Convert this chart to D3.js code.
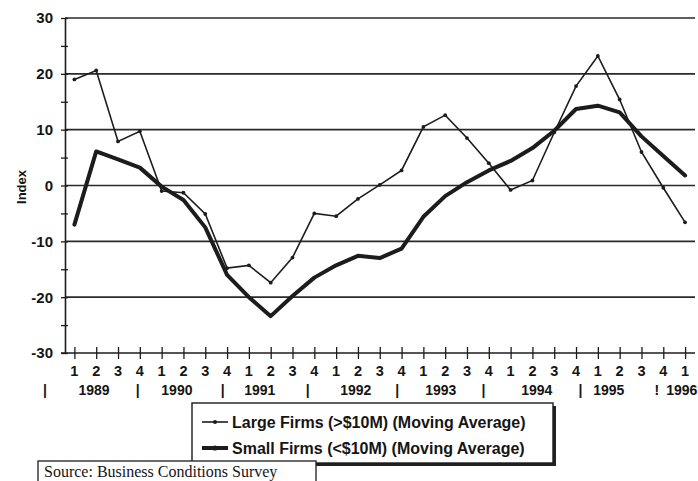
<!DOCTYPE html>
<html>
<head>
<meta charset="utf-8">
<script src="https://cdn.jsdelivr.net/npm/d3@7"></script>
<style>
  html, body { margin: 0; padding: 0; background: #fff; }
  svg { display: block; }
  text { font-family: "Liberation Sans", Arial, sans-serif; fill: #151515; }
</style>
</head>
<body>
<svg id="chart" width="698" height="481"></svg>
<script>
// ---- data ----
const quarterLabels = ["1","2","3","4","1","2","3","4","1","2","3","4","1","2","3","4",
                       "1","2","3","4","1","2","3","4","1","2","3","4","1"];
const largeFirms = [19.0, 20.6, 7.9, 9.7, -1.0, -1.3, -5.1, -14.8, -14.3, -17.4, -12.9, -5.0,
                    -5.5, -2.4, 0.1, 2.7, 10.5, 12.6, 8.5, 4.0, -0.8, 0.9, 9.5, 17.8,
                    23.2, 15.4, 6.0, -0.4, -6.6];
const smallFirms = [-7.0, 6.1, 4.7, 3.2, -0.2, -2.6, -7.5, -16.0, -20.0, -23.4, -19.8, -16.5,
                    -14.3, -12.6, -13.0, -11.3, -5.6, -1.9, 0.6, 2.7, 4.4, 6.7, 9.8, 13.7,
                    14.3, 13.1, 8.8, 5.3, 1.8];
const yearLabels = ["1989","1990","1991","1992","1993","1994","1995","1996"];
const yearPos = [0.9, 4.7, 8.5, 12.9, 16.8, 21.2, 24.5, 27.85];     // in quarter-index units
const sepLabels = ["|","|","|","|","|","|","|","!"];
const sepPos = [-1.35, 2.9, 6.8, 10.7, 14.8, 18.75, 23.2, 26.7];
const yTicks = [-30, -20, -10, 0, 10, 20, 30];
const yMinor = [-30, -25, -20, -15, -10, -5, 0, 5, 10, 15, 20, 25, 30];
const seriesNames = ["Large Firms (>$10M) (Moving Average)", "Small Firms (<$10M) (Moving Average)"];
const sourceText = "Source: Business Conditions Survey";
const yTitle = "Index";

// ---- scales ----
const svg = d3.select("#chart");
const idx = d3.range(quarterLabels.length);
const x = d3.scalePoint().domain(idx).range([63.5, 696]).padding(0.5);
const step = x.step();
const xf = v => x(0) + v * step;   // fractional position
const y = d3.scaleLinear().domain([-30, 30]).range([353, 18]);
const plotLeft = 65, plotRight = 695;
const ink = "#1c1c1c";

// gridlines
svg.append("g").selectAll("line").data(yTicks.filter(v => v > -30)).join("line")
  .attr("x1", plotLeft).attr("x2", plotRight)
  .attr("y1", d => y(d)).attr("y2", d => y(d))
  .attr("stroke", "#2a2a2a").attr("stroke-width", 1.6);

// y axis
const yAxis = d3.axisLeft(y).tickValues(yMinor).tickSizeInner(4).tickSizeOuter(0).tickFormat("");
const gy = svg.append("g").attr("transform", `translate(${plotLeft},0)`).call(yAxis);
gy.select(".domain").attr("stroke", ink).attr("stroke-width", 1.6);
gy.selectAll(".tick line").attr("stroke", ink).attr("stroke-width", 1.3).attr("x2", -4).attr("x1", 3);

svg.append("g").selectAll("text").data(yTicks).join("text")
  .attr("x", 53).attr("y", d => y(d)).attr("dy", "0.36em")
  .attr("text-anchor", "end").attr("font-size", 15).attr("font-weight", "bold")
  .text(d => d);

// x axis
const xAxis = d3.axisBottom(x).tickSizeInner(6).tickSizeOuter(0).tickFormat("");
const gx = svg.append("g").attr("transform", `translate(0,${y(-30)})`).call(xAxis);
gx.select(".domain").attr("stroke", ink).attr("stroke-width", 1.6)
  .attr("d", `M${plotLeft - 4},0H${plotRight}`);
gx.selectAll(".tick line").attr("stroke", ink).attr("stroke-width", 1.3).attr("y1", -6).attr("y2", 6);

svg.append("g").selectAll("text").data(idx).join("text")
  .attr("x", d => x(d)).attr("y", 376)
  .attr("text-anchor", "middle").attr("font-size", 14.5).attr("font-weight", "bold")
  .text(d => quarterLabels[d]);

svg.append("g").selectAll("text").data(yearLabels).join("text")
  .attr("x", (d, i) => xf(yearPos[i])).attr("y", 395)
  .attr("text-anchor", "middle").attr("font-size", 14).attr("font-weight", "bold")
  .text(d => d);
svg.append("g").selectAll("text").data(sepLabels).join("text")
  .attr("x", (d, i) => xf(sepPos[i])).attr("y", 395)
  .attr("text-anchor", "middle").attr("font-size", 14).attr("font-weight", "bold")
  .text(d => d);

// y title
svg.append("text")
  .attr("transform", "translate(26,187) rotate(-90)")
  .attr("text-anchor", "middle").attr("font-size", 13).attr("font-weight", "bold")
  .text(yTitle);

// lines
const line = arr => d3.line().x((d, i) => x(i)).y(d => y(d))(arr);
svg.append("path").attr("d", line(smallFirms))
  .attr("fill", "none").attr("stroke", ink).attr("stroke-width", 4)
  .attr("stroke-linejoin", "round").attr("stroke-linecap", "round");
svg.append("path").attr("d", line(largeFirms))
  .attr("fill", "none").attr("stroke", ink).attr("stroke-width", 1.6)
  .attr("stroke-linejoin", "miter");
svg.append("g").selectAll("circle").data(largeFirms).join("circle")
  .attr("cx", (d, i) => x(i)).attr("cy", d => y(d)).attr("r", 1.9).attr("fill", ink);

// legend
const lg = svg.append("g");
lg.append("rect").attr("x", 195).attr("y", 406).attr("width", 361).attr("height", 60).attr("fill", "#222");
lg.append("rect").attr("x", 192).attr("y", 403).attr("width", 361).attr("height", 60)
  .attr("fill", "#fff").attr("stroke", ink).attr("stroke-width", 1.4);
const rows = [{name: seriesNames[0], w: 1.6, cy: 422}, {name: seriesNames[1], w: 4, cy: 448}];
rows.forEach(r => {
  lg.append("line").attr("x1", 202).attr("x2", 228).attr("y1", r.cy).attr("y2", r.cy)
    .attr("stroke", ink).attr("stroke-width", r.w);
  lg.append("circle").attr("cx", 215).attr("cy", r.cy).attr("r", r.w > 2 ? 2.6 : 2).attr("fill", ink);
  lg.append("text").attr("x", 232).attr("y", r.cy).attr("dy", "0.36em")
    .attr("font-size", 16).attr("font-weight", "bold").text(r.name);
});

// source box
svg.append("rect").attr("x", 38).attr("y", 461).attr("width", 278).attr("height", 30)
  .attr("fill", "#fff").attr("stroke", ink).attr("stroke-width", 1.3);
svg.append("text").attr("x", 44).attr("y", 477)
  .style("font-family", "'Liberation Serif', 'Times New Roman', serif")
  .attr("font-size", 16).text(sourceText);
</script>
</body>
</html>
